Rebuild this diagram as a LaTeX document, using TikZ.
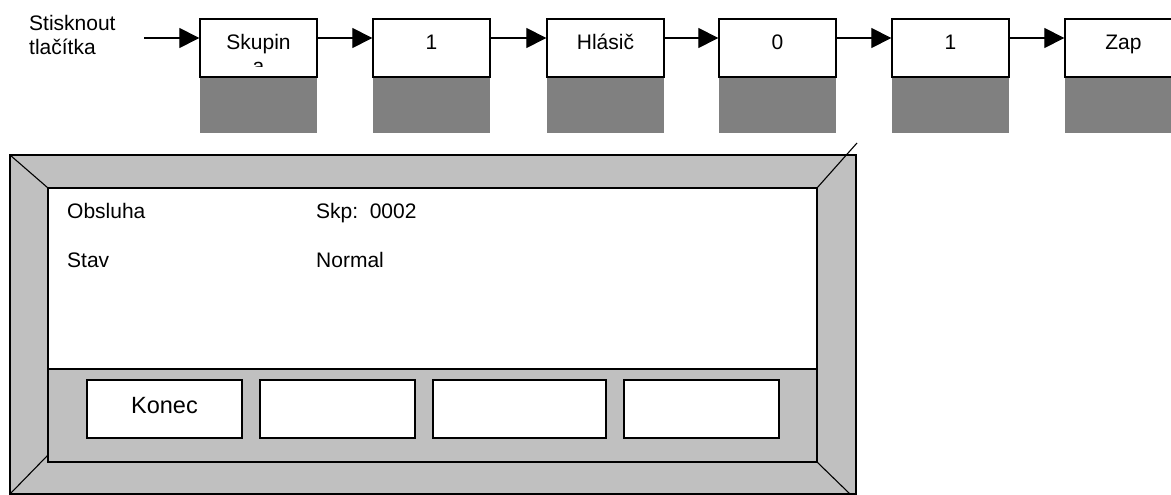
\documentclass[tikz,border=0pt]{standalone}
\usepackage{fontspec}
\setmainfont{Liberation Sans}
\usetikzlibrary{arrows.meta}
\definecolor{shadowgray}{HTML}{808080}
\definecolor{framegray}{HTML}{C0C0C0}
\tikzset{
  keybox/.style={draw=black, line width=1.3pt, fill=white, minimum width=117pt, minimum height=58pt, inner sep=0pt},
  keyshadow/.style={fill=shadowgray, draw=none},
  flow/.style={line width=1.1pt, -{Triangle[length=20pt,width=20pt]}},
  lbl/.style={font=\fontsize{21}{24}\selectfont, inner sep=0pt},
  edge/.style={draw=black, line width=1.3pt},
  softkey/.style={draw=black, line width=1.3pt, fill=white},
}
\begin{document}
\begin{tikzpicture}[x=1pt,y=-1pt]
\useasboundingbox (0,0) rectangle (1171,495);
% shadows
\foreach \xl in {200,373,547,719,892,1065}{
  \fill[keyshadow] (\xl,77) rectangle ++(117,56);
}
% key boxes
\node[keybox] (b1) at (258.5,48) {};
\node[keybox] (b2) at (431.5,48) {};
\node[keybox] (b3) at (605.5,48) {};
\node[keybox] (b4) at (777.5,48) {};
\node[keybox] (b5) at (950.5,48) {};
\node[keybox] (b6) at (1123.5,48) {};
% labels
\node[lbl, anchor=base] (t1) at (258.5,50) {Skupin};
\begin{scope}
\clip (200,19) rectangle (317,67);
\node[lbl, anchor=base] (t1b) at (258.5,74) {a};
\end{scope}
\node[lbl, anchor=base] (t2) at (431.5,50) {1};
\node[lbl, anchor=base] (t3) at (605.5,50) {Hlásič};
\node[lbl, anchor=base] (t4) at (777.5,50) {0};
\node[lbl, anchor=base] (t5) at (950.5,50) {1};
\node[lbl, anchor=base] (t6) at (1123.5,50) {Zap};
% intro text
\node[lbl, anchor=base west] (s1) at (29,31) {Stisknout};
\node[lbl, anchor=base west] (s2) at (29,55) {tlačítka};
% arrows
\coordinate (start) at (144,38);
\draw[flow] (start) -- (b1.west |- start);
\draw[flow] (b1.east |- start) -- (b2.west |- start);
\draw[flow] (b2.east |- start) -- (b3.west |- start);
\draw[flow] (b3.east |- start) -- (b4.west |- start);
\draw[flow] (b4.east |- start) -- (b5.west |- start);
\draw[flow] (b5.east |- start) -- (b6.west |- start);
% display frame
\filldraw[edge, fill=framegray] (10,155) rectangle (856,494);
\filldraw[edge, fill=white] (48,188) rectangle (817,369);
\filldraw[edge, fill=framegray] (48,369) rectangle (817,462);
\draw[line width=1.1pt] (10,155) -- (48,188);
\draw[line width=1.1pt] (817,188) -- (857,143);
\draw[line width=1.1pt] (48,455) -- (10,494);
\draw[line width=1.1pt] (817,462) -- (850,494);
% display texts
\node[lbl, anchor=base west] (d1) at (67,218) {Obsluha};
\node[lbl, anchor=base west] (d2) at (316,218) {Skp:\hspace{0.55em}0002};
\node[lbl, anchor=base west] (d3) at (67,267) {Stav};
\node[lbl, anchor=base west] (d4) at (316,267) {Normal};
% soft keys
\filldraw[softkey] (87,380) rectangle (242,438);
\filldraw[softkey] (260,380) rectangle (415,438);
\filldraw[softkey] (433,380) rectangle (606,438);
\filldraw[softkey] (624,380) rectangle (779,438);
\node[inner sep=0pt, font=\fontsize{23.5}{26}\selectfont, anchor=base] (k1) at (164.5,413) {Konec};
\end{tikzpicture}
\end{document}
